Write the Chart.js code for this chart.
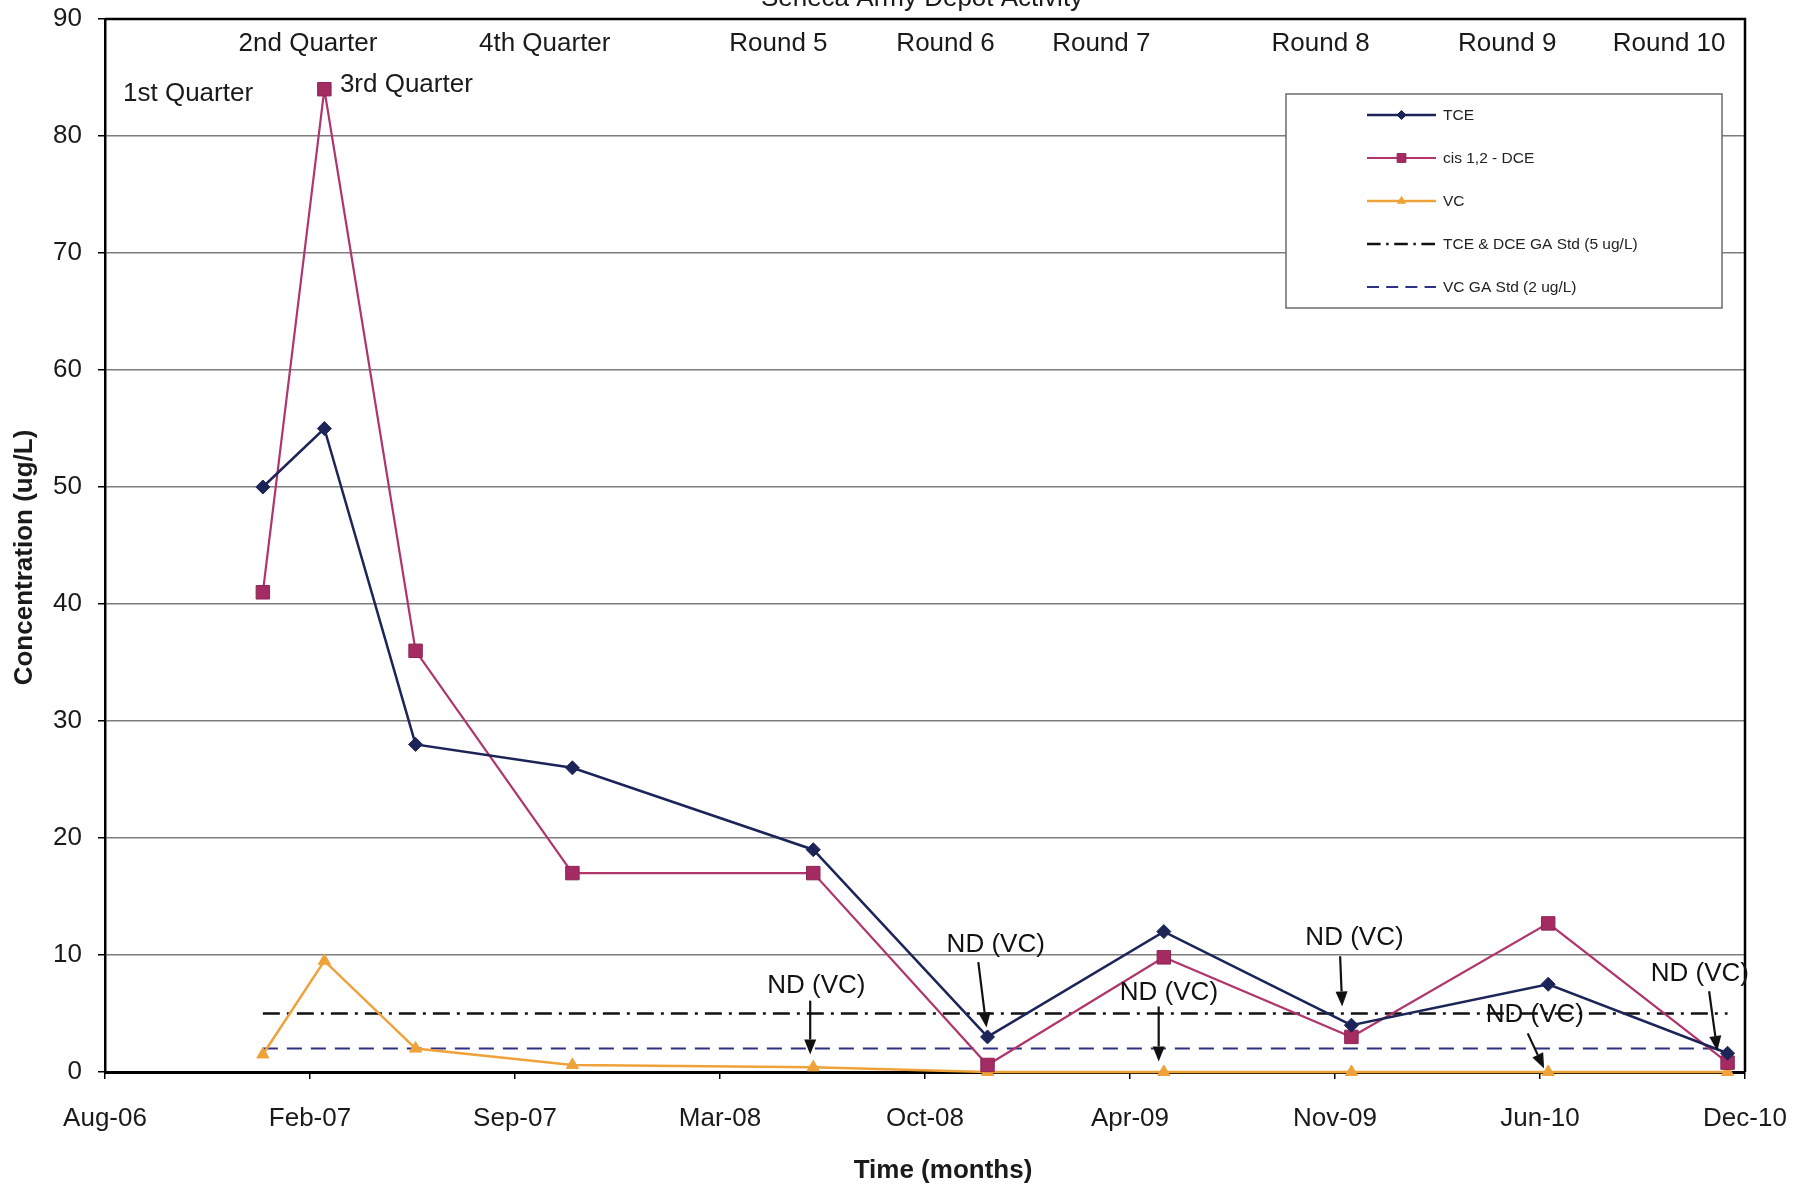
<!DOCTYPE html>
<html>
<head>
<meta charset="utf-8">
<script src="https://cdn.jsdelivr.net/npm/chart.js@4.4.0/dist/chart.umd.min.js"></script>
<style>
  html, body { margin: 0; padding: 0; background: #ffffff; }
  canvas { display: block; }
</style>
</head>
<body>
<canvas id="chart" width="1807" height="1185"></canvas>
<script>
// ---- Monitoring data (concentrations in ug/L) ----
const sampleDates = ['2007-01-02', '2007-03-03', '2007-05-31', '2007-10-31', '2008-06-22',
                     '2008-12-09', '2009-05-30', '2009-11-29', '2010-06-09', '2010-12-01'];
const tceValues = [50, 55, 28, 26, 19, 3, 12, 4, 7.5, 1.6];
const dceValues = [41, 84, 36, 17, 17, 0.6, 9.8, 3, 12.7, 0.8];
const vcValues  = [1.5, 9.5, 2, 0.6, 0.4, 0, 0, 0, 0, 0];
const tceDceStandard = 5;
const vcStandard = 2;

// ---- Axis definition ----
const axisStartDate = '2006-08-01';
const axisSpanDays = 1600;
const tickStepDays = 200;
const tickLabels = ['Aug-06', 'Feb-07', 'Sep-07', 'Mar-08', 'Oct-08', 'Apr-09', 'Nov-09', 'Jun-10', 'Dec-10'];
const yMax = 90;
const yStep = 10;

// ---- Text ----
const chartTitle = 'Seneca Army Depot Activity';
const xTitle = 'Time (months)';
const yTitle = 'Concentration (ug/L)';
const eventLabels = ['1st Quarter', '2nd Quarter', '3rd Quarter', '4th Quarter', 'Round 5',
                     'Round 6', 'Round 7', 'Round 8', 'Round 9', 'Round 10'];
const ndLabel = 'ND (VC)';
const seriesNames = ['TCE', 'cis 1,2 - DCE', 'VC', 'TCE & DCE GA Std (5 ug/L)', 'VC GA Std (2 ug/L)'];

const FONT = '"Liberation Sans", Arial, Helvetica, sans-serif';

function dayOffset(iso) {
  const [y, m, d] = iso.split('-').map(Number);
  const [y0, m0, d0] = axisStartDate.split('-').map(Number);
  return Math.round((Date.UTC(y, m - 1, d) - Date.UTC(y0, m0 - 1, d0)) / 86400000);
}
const sampleDays = sampleDates.map(dayOffset);
const asPoints = vals => vals.map((v, i) => ({ x: sampleDays[i], y: v }));
const standardLine = v => [{ x: sampleDays[0], y: v }, { x: sampleDays[sampleDays.length - 1], y: v }];

// Placement of the event labels along the top (in axis units: days, ug/L)
const eventLayout = [
  [81, 83.6], [198, 87.9], [294, 84.4], [429, 87.9], [657, 87.9],
  [820, 87.9], [972, 87.9], [1186, 87.9], [1368, 87.9], [1526, 87.9]
];
// "ND (VC)" call-outs: label centre, arrow tail, arrow head (axis units)
const ndLayout = [
  { text: [694, 7.4],  from: [688, 6.1],  to: [688, 1.5] },
  { text: [869, 10.9], from: [852, 9.4],  to: [860, 3.8] },
  { text: [1038, 6.8], from: [1028, 5.6], to: [1028, 0.9] },
  { text: [1219, 11.5], from: [1205, 9.9], to: [1207, 5.6] },
  { text: [1395, 4.9], from: [1388, 3.3], to: [1404, 0.3] },
  { text: [1556, 8.4], from: [1565, 6.9], to: [1573, 1.8] }
];

const TCE_COLOR = '#1c2458';
const DCE_COLOR = '#b0356c';
const VC_COLOR = '#f0a23a';
const STD_COLOR = '#111111';
const VCSTD_COLOR = '#2e3182';

const datasets = [
  {
    label: seriesNames[0], data: asPoints(tceValues),
    borderColor: TCE_COLOR, backgroundColor: TCE_COLOR, borderWidth: 2.5,
    pointStyle: 'rectRot', pointRadius: 7, pointBorderWidth: 1, pointBackgroundColor: TCE_COLOR,
    clip: false, order: 1
  },
  {
    label: seriesNames[1], data: asPoints(dceValues),
    borderColor: DCE_COLOR, backgroundColor: '#a52c63', borderWidth: 2.2,
    pointStyle: 'rect', pointRadius: 9.5, pointBorderWidth: 1, pointBorderColor: '#8c2353',
    clip: false, order: 2
  },
  {
    label: seriesNames[2], data: asPoints(vcValues),
    borderColor: VC_COLOR, backgroundColor: VC_COLOR, borderWidth: 2.5,
    pointStyle: 'triangle', pointRadius: 7, pointBorderWidth: 1,
    clip: false, order: 3
  },
  {
    label: seriesNames[3], data: standardLine(tceDceStandard),
    borderColor: STD_COLOR, borderWidth: 2.5, borderDash: [17, 7, 3, 7],
    pointRadius: 0, order: 4
  },
  {
    label: seriesNames[4], data: standardLine(vcStandard),
    borderColor: VCSTD_COLOR, borderWidth: 2, borderDash: [15, 9],
    pointRadius: 0, order: 5
  }
];

function drawArrow(ctx, x1, y1, x2, y2) {
  const ang = Math.atan2(y2 - y1, x2 - x1);
  const head = 15, half = 6;
  ctx.beginPath();
  ctx.moveTo(x1, y1);
  ctx.lineTo(x2 - Math.cos(ang) * head, y2 - Math.sin(ang) * head);
  ctx.stroke();
  ctx.beginPath();
  ctx.moveTo(x2, y2);
  ctx.lineTo(x2 - Math.cos(ang) * head - Math.sin(ang) * half, y2 - Math.sin(ang) * head + Math.cos(ang) * half);
  ctx.lineTo(x2 - Math.cos(ang) * head + Math.sin(ang) * half, y2 - Math.sin(ang) * head - Math.cos(ang) * half);
  ctx.closePath();
  ctx.fill();
}

// keep the plot rectangle fixed regardless of tick-label overhang
function noOverhang(s) {
  s.paddingTop = 0; s.paddingBottom = 0; s.paddingLeft = 0; s.paddingRight = 0;
}

const decorations = {
  id: 'decorations',
  beforeDraw(chart) {
    const ctx = chart.ctx;
    ctx.save();
    ctx.fillStyle = '#ffffff';
    ctx.fillRect(0, 0, chart.width, chart.height);
    ctx.restore();
  },
  afterDatasetsDraw(chart) {
    const { ctx, chartArea: a, scales: { x, y } } = chart;
    ctx.save();

    // plot frame (top and right edges)
    ctx.strokeStyle = '#000';
    ctx.lineWidth = 2.5;
    ctx.beginPath();
    ctx.moveTo(a.left, a.top);
    ctx.lineTo(a.right, a.top);
    ctx.lineTo(a.right, a.bottom);
    ctx.stroke();

    // title, partly above the page edge
    ctx.fillStyle = '#1a1a1a';
    ctx.textAlign = 'center';
    ctx.textBaseline = 'alphabetic';
    ctx.font = '26px ' + FONT;
    ctx.fillText(chartTitle, (a.left + a.right) / 2 - 3, 6);

    // event labels
    ctx.textBaseline = 'middle';
    ctx.font = '26px ' + FONT;
    eventLabels.forEach((t, i) => {
      const [dx, vy] = eventLayout[i];
      ctx.fillText(t, x.getPixelForValue(dx), y.getPixelForValue(vy));
    });

    // non-detect call-outs
    ctx.strokeStyle = '#111';
    ctx.fillStyle = '#111';
    ctx.lineWidth = 2.2;
    ndLayout.forEach(n => {
      ctx.fillText(ndLabel, x.getPixelForValue(n.text[0]), y.getPixelForValue(n.text[1]));
      drawArrow(ctx,
        x.getPixelForValue(n.from[0]), y.getPixelForValue(n.from[1]),
        x.getPixelForValue(n.to[0]), y.getPixelForValue(n.to[1]));
    });

    // axis titles
    ctx.fillStyle = '#1a1a1a';
    ctx.font = 'bold 26px ' + FONT;
    ctx.fillText(xTitle, (a.left + a.right) / 2 + 18, a.bottom + 99);
    ctx.save();
    ctx.translate(25, (a.top + a.bottom) / 2 + 12);
    ctx.rotate(-Math.PI / 2);
    ctx.fillText(yTitle, 0, 0);
    ctx.restore();

    // legend box
    const bx = a.right - 459, by = a.top + 75, bw = 436, bh = 214;
    ctx.fillStyle = '#ffffff';
    ctx.fillRect(bx, by, bw, bh);
    ctx.strokeStyle = '#6b6b6b';
    ctx.lineWidth = 1.5;
    ctx.strokeRect(bx, by, bw, bh);
    ctx.font = '15.5px ' + FONT;
    ctx.textAlign = 'left';
    chart.data.datasets.forEach((ds, i) => {
      const rowY = by + 21 + i * 43;
      const x0 = bx + 81, x1 = bx + 150;
      ctx.save();
      ctx.strokeStyle = ds.borderColor;
      ctx.lineWidth = ds.borderWidth;
      ctx.setLineDash(ds.borderDash ? ds.borderDash.map(v => v * 0.8) : []);
      ctx.beginPath();
      ctx.moveTo(x0, rowY);
      ctx.lineTo(x1, rowY);
      ctx.stroke();
      ctx.restore();
      if (ds.pointRadius > 0) {
        ctx.save();
        ctx.fillStyle = ds.backgroundColor;
        ctx.strokeStyle = ds.pointBorderColor || ds.borderColor;
        ctx.lineWidth = 1;
        Chart.helpers.drawPoint(ctx, {
          pointStyle: ds.pointStyle, radius: ds.pointRadius * 0.65, rotation: 0, borderWidth: 1
        }, (x0 + x1) / 2, rowY);
        ctx.restore();
      }
      ctx.fillStyle = '#222';
      ctx.textBaseline = 'middle';
      ctx.fillText(ds.label, x1 + 7, rowY + 1);
    });

    ctx.restore();
  }
};

new Chart(document.getElementById('chart'), {
  type: 'line',
  data: { datasets },
  options: {
    responsive: false,
    animation: false,
    devicePixelRatio: 1,
    layout: { padding: { left: 0, top: 19, right: 62, bottom: 0 } },
    plugins: { legend: { display: false }, title: { display: false }, tooltip: { enabled: false } },
    elements: { line: { tension: 0 } },
    scales: {
      x: {
        type: 'linear',
        min: 0, max: axisSpanDays,
        afterFit: s => { s.height = 113; noOverhang(s); },
        afterBuildTicks: s => {
          s.ticks = tickLabels.map((_, i) => ({ value: i * tickStepDays }));
        },
        ticks: {
          autoSkip: false, maxRotation: 0, padding: 24,
          color: '#1a1a1a',
          font: { family: FONT, size: 26 },
          callback: v => tickLabels[Math.round(v / tickStepDays)]
        },
        grid: { drawOnChartArea: false, drawTicks: true, tickLength: 7, tickColor: '#000', lineWidth: 1.5 },
        border: { display: true, color: '#000', width: 3 }
      },
      y: {
        min: 0, max: yMax,
        afterFit: s => { s.width = 105; noOverhang(s); },
        ticks: {
          stepSize: yStep, padding: 16,
          color: '#1a1a1a',
          font: { family: FONT, size: 26 }
        },
        grid: { color: '#7d7d7d', lineWidth: 1.5, tickLength: 7, tickColor: '#000' },
        border: { display: true, color: '#000', width: 2.5 }
      }
    }
  },
  plugins: [decorations]
});
</script>
</body>
</html>
